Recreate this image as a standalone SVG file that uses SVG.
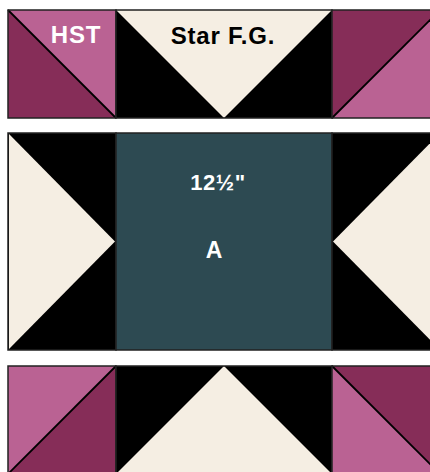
<svg xmlns="http://www.w3.org/2000/svg" width="430" height="472" viewBox="0 0 430 472">
<style>
.lp{fill:#BA6293}
.dp{fill:#862D58}
.cr{fill:#F5EEE3}
.bk{fill:#000}
.tl{fill:#2D4A52}
.ol{fill:none;stroke:#222;stroke-width:1.5}
.dg{stroke:#000;stroke-width:1.8;fill:none}
.t{font-family:"Liberation Sans",Arial,sans-serif;font-weight:bold}
</style>
<rect width="430" height="472" fill="#fff"/>
<g id="hst-top-left">
<polygon class="lp" points="8,10 116,10 116,118"/>
<polygon class="dp" points="8,10 8,118 116,118"/>
<line class="dg" x1="8" y1="10" x2="116" y2="118"/>
<rect class="ol" x="8" y="10" width="108" height="108"/>
<text class="t" x="76" y="43" font-size="24" fill="#fff" text-anchor="middle" letter-spacing="0.8">HST</text>
</g>
<g id="star-fg-top">
<rect class="bk" x="116" y="10" width="216" height="108"/>
<polygon class="cr" points="116,10 332,10 224,118"/>
<rect class="ol" x="116" y="10" width="216" height="108"/>
<text class="t" x="223" y="44" font-size="24" fill="#000" text-anchor="middle" letter-spacing="0.8">Star F.G.</text>
</g>
<g id="hst-top-right">
<polygon class="dp" points="332,10 440,10 332,118"/>
<polygon class="lp" points="440,10 440,118 332,118"/>
<line class="dg" x1="332" y1="118" x2="440" y2="10"/>
<rect class="ol" x="332" y="10" width="108" height="108"/>
</g>
<g id="star-left">
<rect class="bk" x="8" y="133" width="108" height="217"/>
<polygon class="cr" points="9,134 115,241.5 9,349"/>
<rect class="ol" x="8" y="133" width="108" height="217"/>
</g>
<g id="center-a">
<rect class="tl" x="116" y="133" width="216" height="217"/>
<rect class="ol" x="116" y="133" width="216" height="217"/>
<text class="t" x="218" y="190" font-size="22" fill="#fff" text-anchor="middle" letter-spacing="0.6">12½"</text>
<text class="t" x="214" y="258" font-size="23" fill="#fff" text-anchor="middle">A</text>
</g>
<g id="star-right">
<rect class="bk" x="332" y="133" width="108" height="217"/>
<polygon class="cr" points="440,133 333,241.5 440,350"/>
<rect class="ol" x="332" y="133" width="108" height="217"/>
</g>
<g id="hst-bottom-left">
<polygon class="lp" points="8,366 116,366 8,474"/>
<polygon class="dp" points="116,366 116,474 8,474"/>
<line class="dg" x1="116" y1="366" x2="8" y2="474"/>
<rect class="ol" x="8" y="366" width="108" height="108"/>
</g>
<g id="star-fg-bottom">
<rect class="bk" x="116" y="366" width="216" height="108"/>
<polygon class="cr" points="224,366 332,474 116,474"/>
<rect class="ol" x="116" y="366" width="216" height="108"/>
</g>
<g id="hst-bottom-right">
<polygon class="dp" points="332,366 440,366 440,474"/>
<polygon class="lp" points="332,366 332,474 440,474"/>
<line class="dg" x1="332" y1="366" x2="440" y2="474"/>
<rect class="ol" x="332" y="366" width="108" height="108"/>
</g>
<g id="connectors"></g>
</svg>
